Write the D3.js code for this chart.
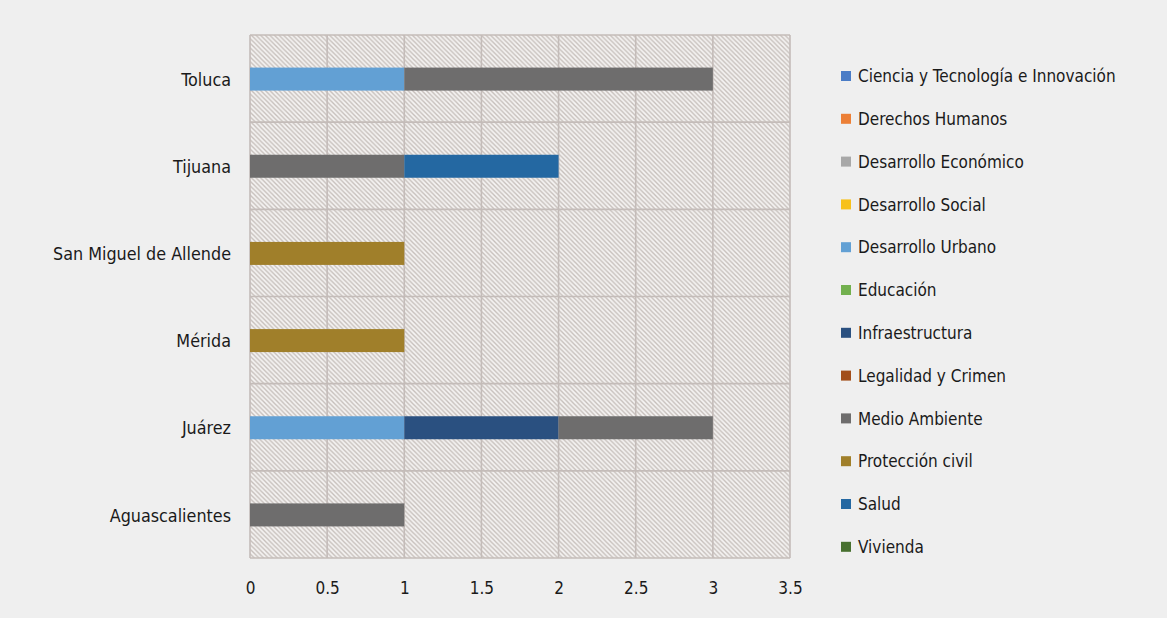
<!DOCTYPE html>
<html><head><meta charset="utf-8">
<script src="https://cdn.jsdelivr.net/npm/d3@7"></script>
<style>
html,body{margin:0;padding:0;background:#efefef;}
svg{display:block;}
text{font-family:"DejaVu Sans Condensed","DejaVu Sans",sans-serif;fill:#1a1a1a;}
</style></head>
<body>
<svg id="chart" width="1167" height="618"></svg>
<script>
const cities = ["Toluca","Tijuana","San Miguel de Allende","Mérida","Juárez","Aguascalientes"];
const series = ["Ciencia y Tecnología e Innovación","Derechos Humanos","Desarrollo Económico","Desarrollo Social","Desarrollo Urbano","Educación","Infraestructura","Legalidad y Crimen","Medio Ambiente","Protección civil","Salud","Vivienda"];
const colors = ["#4a7cc6","#ec7f36","#a8a8a8","#f7c11a","#62a0d4","#72b04e","#2a5080","#a24e1a","#6e6d6d","#a07f2a","#2468a2","#47702f"];
// values per city in series order
const ciencia      = [0,0,0,0,0,0];
const derechos     = [0,0,0,0,0,0];
const desEconomico = [0,0,0,0,0,0];
const desSocial    = [0,0,0,0,0,0];
const desUrbano    = [1,0,0,0,1,0];
const educacion    = [0,0,0,0,0,0];
const infra        = [0,0,0,0,1,0];
const legalidad    = [0,0,0,0,0,0];
const medioAmb     = [2,1,0,0,1,1];
const proteccion   = [0,0,1,1,0,0];
const salud        = [0,1,0,0,0,0];
const vivienda     = [0,0,0,0,0,0];
const xTicks = [0,0.5,1,1.5,2,2.5,3,3.5];
const xTickLabels = ["0","0.5","1","1.5","2","2.5","3","3.5"];

const valueArrays = [ciencia,derechos,desEconomico,desSocial,desUrbano,educacion,infra,legalidad,medioAmb,proteccion,salud,vivienda];
const rows = cities.map((c,i)=>{const r={city:c}; series.forEach((s,j)=>r[s]=valueArrays[j][i]); return r;});

const svg = d3.select("#chart");
const L=250, R=790, T=35, B=558;
const x = d3.scaleLinear().domain([0,3.5]).range([L,R]);
const y = d3.scaleBand().domain(cities).range([T,B]).paddingInner(0).paddingOuter(0);

const P = 4.6;
const defs = svg.append("defs");
const pat = defs.append("pattern").attr("id","hatch").attr("patternUnits","userSpaceOnUse")
  .attr("width",P).attr("height",P);
pat.append("rect").attr("width",P).attr("height",P).attr("fill","#f4f2f1");
pat.append("path").attr("d",`M-1,-1 L${P+1},${P+1} M-1,${P-1} L1,${P+1} M${P-1},-1 L${P+1},1`)
  .attr("stroke","#c6bfbb").attr("stroke-width",1.35);

svg.append("rect").attr("x",L).attr("y",T).attr("width",R-L).attr("height",B-T).attr("fill","url(#hatch)");

const gridColor="#c4bcb9";
svg.append("g").selectAll("line").data(xTicks).join("line")
  .attr("x1",d=>x(d)).attr("x2",d=>x(d)).attr("y1",T).attr("y2",B)
  .attr("stroke",gridColor).attr("stroke-width",1.6);
const seps = cities.map(c=>y(c)).concat([B]);
svg.append("g").selectAll("line").data(seps).join("line")
  .attr("x1",L).attr("x2",R).attr("y1",d=>d).attr("y2",d=>d)
  .attr("stroke",gridColor).attr("stroke-width",1.6);

// stacked bars
const stack = d3.stack().keys(series)(rows);
const barH = 23;
svg.append("g").selectAll("g").data(stack).join("g")
  .attr("fill",(d,i)=>colors[i])
  .selectAll("rect").data(d=>d.filter(p=>p[1]-p[0]>0)).join("rect")
  .attr("x",d=>x(d[0])).attr("width",d=>x(d[1])-x(d[0]))
  .attr("y",d=>y(d.data.city)+y.bandwidth()/2-barH/2+0.5).attr("height",barH);

// y axis labels
const yAxis = d3.axisLeft(y).tickSize(0).tickPadding(19);
const gy = svg.append("g").attr("transform",`translate(${L},0)`).call(yAxis);
gy.select(".domain").remove();
gy.selectAll("text").style("font-size","17.8px").style("font-family",null).attr("fill","#1a1a1a").attr("dy","0.4em");

// x axis labels
const xAxis = d3.axisBottom(x).tickValues(xTicks).tickFormat((d,i)=>xTickLabels[i]).tickSize(0).tickPadding(24);
const gx = svg.append("g").attr("transform",`translate(0,${B})`).call(xAxis);
gx.select(".domain").remove();
gx.selectAll("text").style("font-size","17px").style("font-family",null).attr("fill","#1a1a1a");

// legend
const lg = svg.append("g");
const legY0 = 76, legStep = 42.8;
series.forEach((s,i)=>{
  const g = lg.append("g").attr("transform",`translate(841,${legY0+i*legStep})`);
  g.append("rect").attr("x",0).attr("y",-5).attr("width",10).attr("height",10).attr("fill",colors[i]);
  g.append("text").attr("x",17).attr("y",0).attr("dy","0.37em").style("font-size","17px").text(s);
});
</script>
</body></html>
